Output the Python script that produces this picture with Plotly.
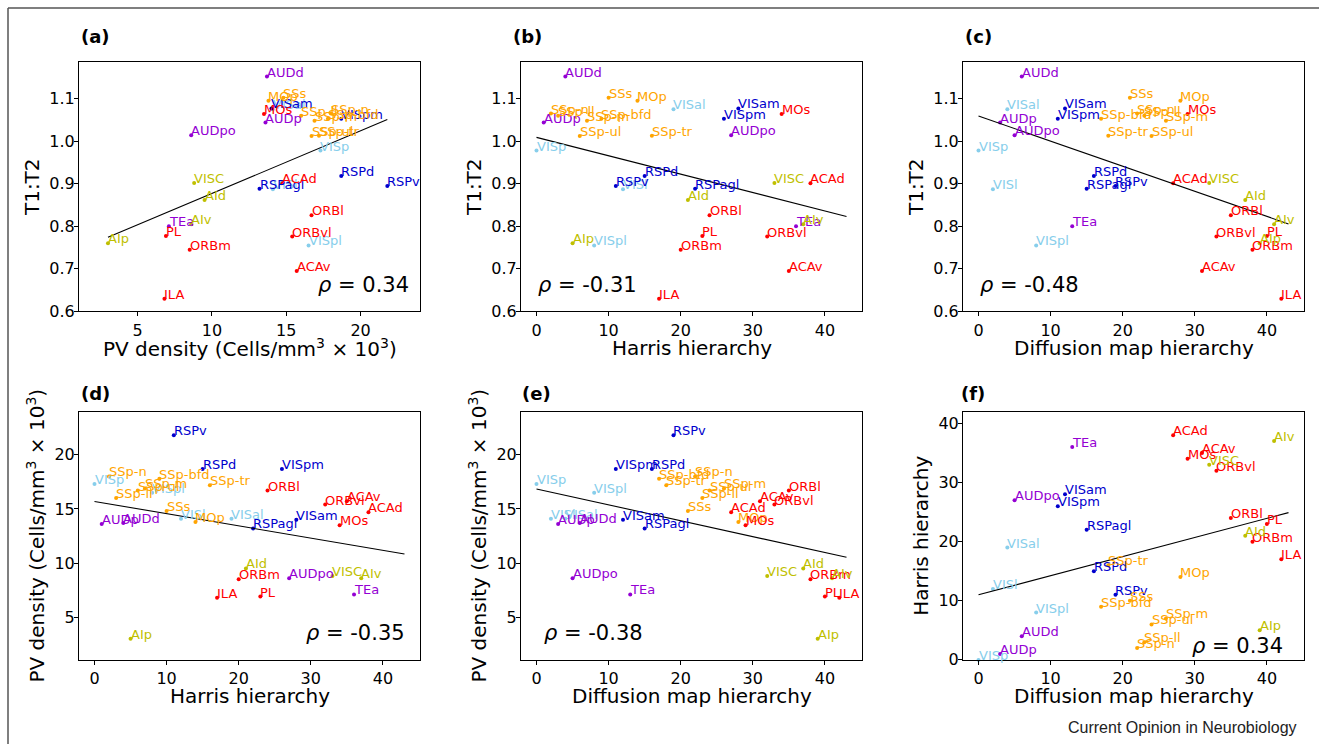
import numpy as np
import plotly.graph_objects as go

# ---------------- data ----------------
areas = ["VISp", "VISl", "VISal", "VISpl",
         "VISam", "VISpm", "RSPagl", "RSPd", "RSPv",
         "AUDd", "AUDp", "AUDpo", "TEa",
         "SSp-n", "SSp-bfd", "SSp-ll", "SSp-m", "SSp-ul", "SSp-tr", "SSs", "MOp",
         "MOs", "ACAd", "ACAv", "PL", "ILA", "ORBl", "ORBm", "ORBvl",
         "AId", "AIv", "AIp", "VISC"]
groups = ["vislat"] * 4 + ["vismed"] * 5 + ["aud"] * 4 + ["som"] * 8 + ["pfc"] * 8 + ["ins"] * 4
t1t2 = [0.978, 0.887, 1.075, 0.755,
        1.077, 1.053, 0.888, 0.918, 0.895,
        1.152, 1.044, 1.014, 0.800,
        1.065, 1.053, 1.060, 1.048, 1.012, 1.013, 1.102, 1.095,
        1.064, 0.901, 0.695, 0.777, 0.630, 0.826, 0.745, 0.776,
        0.862, 0.805, 0.760, 0.902]
pv_density = [17.3, 14.1, 14.1, 16.5,
              14.0, 18.7, 13.2, 18.7, 21.8,
              13.7, 13.6, 8.6, 7.1,
              18.0, 17.8, 16.0, 16.9, 16.7, 17.2, 14.8, 13.8,
              13.5, 14.7, 15.7, 6.9, 6.8, 16.7, 8.5, 15.4,
              9.5, 8.6, 3.0, 8.8]
harris = [0, 12, 19, 8,
          28, 26, 22, 15, 11,
          4, 1, 27, 36,
          2, 9, 3, 7, 6, 16, 10, 14,
          34, 38, 35, 23, 17, 24, 20, 32,
          21, 37, 5, 33]
diffusion = [0, 2, 4, 8,
             12, 11, 15, 16, 19,
             6, 3, 5, 13,
             22, 17, 23, 26, 24, 18, 21, 28,
             29, 27, 31, 40, 42, 35, 38, 33,
             37, 41, 39, 32]

group_colors = {"aud": "#9400D3", "vislat": "#87CEEB", "vismed": "#0000CD",
                "som": "#FFA500", "pfc": "#FF0000", "ins": "#BFBF00"}

rho_labels = ["0.34", "-0.31", "-0.48", "-0.35", "-0.38", "0.34"]
panel_letters = ["(a)", "(b)", "(c)", "(d)", "(e)", "(f)"]
hierarchy_span = [0, 43]

pv_title = "PV density (Cells/mm<sup>3</sup> × 10<sup>3</sup>)"
panels = [
    dict(x=pv_density, y=t1t2, xt=pv_title, yt="T1:T2", span=None, rho="right"),
    dict(x=harris, y=t1t2, xt="Harris hierarchy", yt="T1:T2", span=hierarchy_span, rho="left"),
    dict(x=diffusion, y=t1t2, xt="Diffusion map hierarchy", yt="T1:T2", span=hierarchy_span, rho="left"),
    dict(x=harris, y=pv_density, xt="Harris hierarchy", yt=pv_title, span=hierarchy_span, rho="right"),
    dict(x=diffusion, y=pv_density, xt="Diffusion map hierarchy", yt=pv_title, span=hierarchy_span, rho="left"),
    dict(x=diffusion, y=harris, xt="Diffusion map hierarchy", yt="Harris hierarchy", span=hierarchy_span, rho="right"),
]

# ---------------- layout geometry ----------------
W, H = 1319, 744          # target picture size (positions below are in these pixels)
H_FIG = 755               # figure height: the capture compresses the page vertically slightly
col_px = [(79, 420), (521, 862), (963, 1304)]
row_px = [(62, 311), (411, 659)]
xtitle_px = [347.5, 695]
hier_range = [-2.15, 45.15]
ranges = {
    "pv": [1.05, 24.0],
    "t1t2": [0.6, 1.186],
    "harris_y": [0, 42],
}

colors = [group_colors[g] for g in groups]
FONT = "DejaVu Sans"
LABEL_SIZE = 13

fig = go.Figure()
layout = dict(width=W, height=H_FIG, margin=dict(l=0, r=0, t=0, b=0),
              paper_bgcolor="white", plot_bgcolor="white", showlegend=False,
              font=dict(family=FONT, color="black"))
annotations = []

for i, p in enumerate(panels):
    r, c = divmod(i, 3)
    n = "" if i == 0 else str(i + 1)
    xa, ya = "x" + n, "y" + n
    x0, x1 = col_px[c]
    y0, y1 = row_px[r]
    xdom = [x0 / W, x1 / W]
    ydom = [1 - y1 / H, 1 - y0 / H]

    x = np.array(p["x"], dtype=float)
    y = np.array(p["y"], dtype=float)
    fig.add_trace(go.Scatter(x=x, y=y, mode="markers", text=areas,
                             marker=dict(size=4, color=colors),
                             cliponaxis=False, xaxis=xa, yaxis=ya, hoverinfo="text"))
    for name, xv, yv, col in zip(areas, x, y, colors):
        annotations.append(dict(text=name, x=xv, y=yv, xref=xa, yref=ya,
                                xanchor="left", yanchor="bottom", showarrow=False,
                                yshift=-4, xshift=-1, borderpad=0,
                                font=dict(family=FONT, size=LABEL_SIZE, color=col)))
    k, b = np.polyfit(x, y, 1)
    span = p["span"] if p["span"] is not None else [x.min(), x.max()]
    lx = np.array(span, dtype=float)
    fig.add_trace(go.Scatter(x=lx, y=k * lx + b, mode="lines",
                             line=dict(color="black", width=1.1),
                             xaxis=xa, yaxis=ya, hoverinfo="skip"))

    if i == 0:
        xr, xtv = ranges["pv"], [5, 10, 15, 20]
    else:
        xr, xtv = hier_range, [0, 10, 20, 30, 40]
    if r == 0:
        yr, ytv, yfmt = ranges["t1t2"], [0.6, 0.7, 0.8, 0.9, 1.0, 1.1], ".1f"
    elif i < 5:
        yr, ytv, yfmt = ranges["pv"], [5, 10, 15, 20], ""
    else:
        yr, ytv, yfmt = ranges["harris_y"], [0, 10, 20, 30, 40], ""

    axcommon = dict(showline=True, linecolor="black", linewidth=1, mirror=True,
                    ticks="outside", ticklen=4, tickcolor="black", showgrid=False,
                    zeroline=False, tickfont=dict(family=FONT, size=16))
    layout["xaxis" + n] = dict(axcommon, domain=xdom, range=xr, tickvals=xtv, anchor=ya)
    layout["yaxis" + n] = dict(axcommon, domain=ydom, range=yr, tickvals=ytv,
                               tickformat=yfmt, anchor=xa, ticklabelstandoff=-4,
                               title=dict(text=p["yt"], font=dict(family=FONT, size=20), standoff=4))
    # x-axis title
    annotations.append(dict(text=p["xt"], xref=xa + " domain", yref="paper",
                            x=0.5, y=1 - xtitle_px[r] / H, xanchor="center", yanchor="middle",
                            showarrow=False, font=dict(family=FONT, size=20)))

    # rho annotation
    rho_text = "<i>ρ</i> = " + rho_labels[i]
    if p["rho"] == "right":
        annotations.append(dict(text=rho_text, xref=xa + " domain", yref=ya + " domain",
                                x=0.975 if i == 0 else (0.962 if i == 3 else 0.945),
                                y=0.05 if i != 5 else 0.0,
                                xanchor="right", yanchor="bottom", showarrow=False,
                                font=dict(family=FONT, size=21)))
    else:
        annotations.append(dict(text=rho_text, xref=xa + " domain", yref=ya + " domain",
                                x=0.045 if i != 4 else 0.063, y=0.05,
                                xanchor="left", yanchor="bottom", showarrow=False,
                                font=dict(family=FONT, size=21)))
    # panel letter
    letter_x = [79, 511, 963, 79, 520, 959][i]
    letter_y = [36, 36, 36, 393, 393, 393][i]
    annotations.append(dict(text="<b>" + panel_letters[i] + "</b>", xref="paper", yref="paper",
                            x=letter_x / W, y=1 - letter_y / H, xanchor="left", yanchor="middle",
                            showarrow=False, font=dict(family=FONT, size=18)))

annotations.append(dict(text="Current Opinion in Neurobiology", xref="paper", yref="paper",
                        x=1299 / W, y=1 - 727 / H, xanchor="right", yanchor="middle",
                        showarrow=False, font=dict(family="Liberation Sans", size=16, color="#222")))
layout["annotations"] = annotations
layout["shapes"] = [
    dict(type="line", xref="paper", yref="paper", x0=8 / W, x1=1, y0=1 - 8 / H, y1=1 - 8 / H,
         line=dict(color="#555", width=1.5)),
    dict(type="line", xref="paper", yref="paper", x0=8 / W, x1=8 / W, y0=0, y1=1 - 8 / H,
         line=dict(color="#555", width=1.5)),
]
fig.update_layout(**layout)

page_fix = (
    "var de=document.documentElement, bd=document.body;"
    "de.style.margin='0';de.style.padding='0';de.style.overflow='hidden';"
    "bd.style.margin='0';bd.style.padding='0';bd.style.overflow='hidden';"
)
fig.write_html("out.html", config={"displayModeBar": False}, post_script=page_fix)
